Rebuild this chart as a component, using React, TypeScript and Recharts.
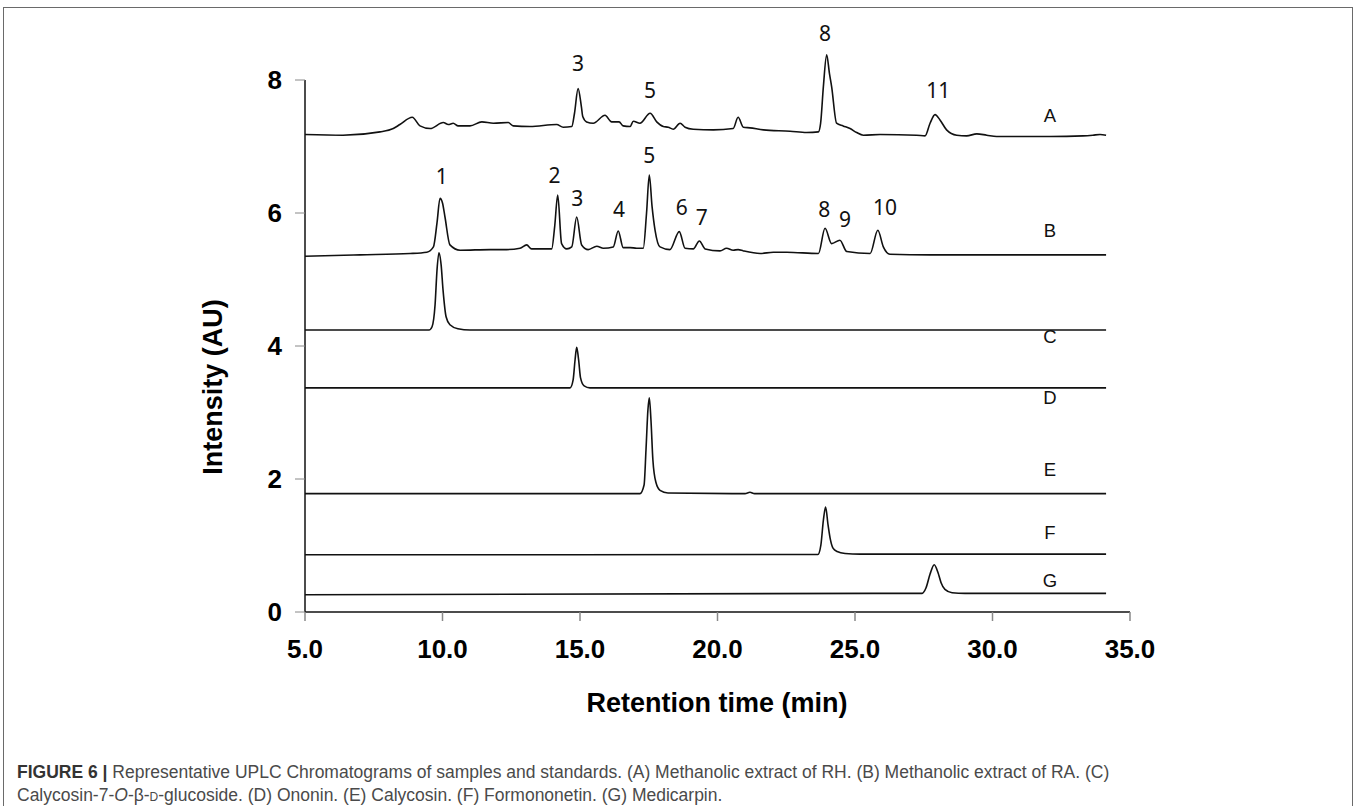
import { LineChart, Line, XAxis, YAxis, ReferenceLine, Scatter } from "recharts";

// retention time (min) / intensity (AU) pairs
const traceA = [
  [5.0, 7.18], [6.38, 7.17], [7.73, 7.22], [8.21, 7.27], [8.45, 7.33], [8.9, 7.44], [9.18, 7.31],
  [9.55, 7.27], [10.03, 7.36], [10.21, 7.33], [10.39, 7.35], [10.57, 7.31], [11.0, 7.31],
  [11.43, 7.37], [11.85, 7.35], [12.39, 7.36], [12.57, 7.31], [13.18, 7.3], [14.15, 7.33],
  [14.39, 7.29], [14.7, 7.3], [14.8, 7.5], [14.93, 7.87], [15.05, 7.6], [15.1, 7.45],
  [15.24, 7.37], [15.48, 7.35], [15.91, 7.47], [16.15, 7.37], [16.42, 7.37], [16.57, 7.31],
  [16.82, 7.3], [16.94, 7.38], [17.18, 7.35], [17.55, 7.5], [17.79, 7.37], [18.03, 7.3],
  [18.21, 7.29], [18.39, 7.26], [18.64, 7.35], [18.82, 7.29], [19.12, 7.26], [19.85, 7.25],
  [20.57, 7.27], [20.75, 7.44], [20.94, 7.29], [21.18, 7.28], [21.67, 7.25], [22.64, 7.23],
  [23.24, 7.21], [23.67, 7.22], [23.75, 7.35], [23.85, 7.9], [23.97, 8.38], [24.07, 8.1],
  [24.15, 7.9], [24.33, 7.35], [24.57, 7.31], [24.82, 7.27], [25.06, 7.21], [25.3, 7.17],
  [25.91, 7.18], [27.24, 7.17], [27.55, 7.16], [27.73, 7.35], [27.91, 7.48], [28.09, 7.4],
  [28.33, 7.25], [28.7, 7.17], [29.06, 7.16], [29.43, 7.19], [29.79, 7.17], [30.15, 7.15],
  [32.09, 7.15], [33.29, 7.16], [33.65, 7.17], [33.91, 7.18], [34.13, 7.17],
];

const traceB = [
  [5.0, 5.35], [7.0, 5.37], [8.82, 5.39], [9.43, 5.41], [9.67, 5.49], [9.8, 5.85], [9.91, 6.22],
  [10.0, 6.15], [10.09, 5.94], [10.27, 5.52], [10.64, 5.44], [11.73, 5.45], [12.33, 5.45],
  [12.82, 5.47], [13.06, 5.52], [13.24, 5.46], [13.97, 5.46], [14.08, 5.8], [14.19, 6.27],
  [14.33, 5.54], [14.52, 5.46], [14.7, 5.49], [14.88, 5.94], [15.06, 5.52], [15.3, 5.45],
  [15.61, 5.5], [15.85, 5.47], [16.21, 5.49], [16.39, 5.73], [16.57, 5.48], [16.82, 5.48],
  [17.06, 5.47], [17.3, 5.47], [17.42, 6.0], [17.52, 6.57], [17.62, 6.1], [17.73, 5.74],
  [17.91, 5.49], [18.27, 5.45], [18.61, 5.72], [18.82, 5.47], [19.12, 5.46], [19.34, 5.58],
  [19.55, 5.46], [20.09, 5.43], [20.33, 5.47], [20.57, 5.44], [20.75, 5.45], [20.94, 5.43],
  [21.55, 5.39], [22.03, 5.41], [22.52, 5.41], [23.67, 5.39], [23.91, 5.77], [24.15, 5.54],
  [24.45, 5.59], [24.7, 5.42], [25.55, 5.39], [25.83, 5.74], [26.03, 5.49], [26.27, 5.38],
  [27.73, 5.37], [32.09, 5.37], [34.13, 5.37],
];

const traceC = [
  [5.0, 4.24], [9.51, 4.24], [9.62, 4.29], [9.73, 4.62], [9.8, 5.14], [9.87, 5.4], [9.95, 5.22],
  [10.02, 4.84], [10.13, 4.44], [10.27, 4.32], [10.56, 4.26], [11.0, 4.24], [34.13, 4.24],
];

const traceD = [
  [5.0, 3.37], [14.64, 3.37], [14.75, 3.49], [14.82, 3.79], [14.88, 3.98], [14.95, 3.79],
  [15.02, 3.52], [15.15, 3.4], [15.36, 3.37], [34.13, 3.37],
];

const traceE = [
  [5.0, 1.78], [17.18, 1.78], [17.33, 1.91], [17.4, 2.44], [17.47, 3.04], [17.52, 3.22],
  [17.58, 2.89], [17.65, 2.29], [17.76, 1.95], [17.91, 1.83], [18.2, 1.79], [21.0, 1.78],
  [21.18, 1.8], [21.35, 1.78], [34.13, 1.78],
];

const traceF = [
  [5.0, 0.86], [23.65, 0.865], [23.76, 1.01], [23.85, 1.38], [23.93, 1.58], [24.02, 1.31],
  [24.11, 1.08], [24.2, 0.96], [24.35, 0.91], [24.64, 0.88], [25.18, 0.87], [34.13, 0.87],
];

const traceG = [
  [5.0, 0.26], [25.91, 0.28], [27.44, 0.28], [27.58, 0.36], [27.73, 0.57], [27.88, 0.71],
  [28.02, 0.59], [28.13, 0.44], [28.27, 0.34], [28.53, 0.29], [29.0, 0.28], [34.13, 0.28],
];

const peakLabels = [
  [14.93, 8.26, "3"], [17.55, 7.85, "5"], [23.91, 8.7, "8"], [28.03, 7.85, "11"],
  [9.97, 6.55, "1"], [14.07, 6.57, "2"], [14.9, 6.22, "3"], [16.42, 6.06, "4"],
  [17.52, 6.87, "5"], [18.7, 6.09, "6"], [19.43, 5.94, "7"], [23.88, 6.06, "8"],
  [24.64, 5.91, "9"], [26.09, 6.09, "10"],
];

const traceNames = [
  [32.09, 7.46, "A"], [32.09, 5.74, "B"], [32.09, 4.14, "C"], [32.09, 3.23, "D"],
  [32.09, 2.14, "E"], [32.09, 1.19, "F"], [32.09, 0.48, "G"],
];

const xTicks = [5, 10, 15, 20, 25, 30, 35];
const yTicks = [0, 2, 4, 6, 8];

const traces = [traceA, traceB, traceC, traceD, traceE, traceF, traceG];

const toPoints = (arr: any[]) => arr.map((p) => ({ t: p[0], v: p[1], text: p[2] }));

const tickFont = {
  fontFamily: "'Liberation Sans', Arial, sans-serif",
  fontWeight: 700,
  fontSize: 26,
  fill: "#000",
};

export default function App() {
  return (
    <div
      style={{
        position: "absolute",
        left: 0,
        top: 0,
        width: 1357,
        height: 806,
        background: "#fff",
        overflow: "hidden",
      }}
    >
      <div
        style={{
          position: "absolute",
          left: 3,
          top: 7,
          width: 1348,
          height: 830,
          border: "1.5px solid #6a6a6a",
        }}
      />

      <div style={{ position: "absolute", left: 0, top: 0 }}>
        <LineChart
          width={1357}
          height={806}
          margin={{ top: 13.5, right: 227, bottom: 134, left: 205 }}
        >
          <XAxis
            dataKey="t"
            type="number"
            domain={[5, 35]}
            ticks={xTicks}
            allowDuplicatedCategory={false}
            tickFormatter={(v: number) => v.toFixed(1)}
            height={60}
            tickSize={9}
            tickMargin={19}
            stroke="#111"
            strokeWidth={1.5}
            tickLine={{ stroke: "#888" }}
            tick={tickFont}
          />
          <YAxis
            type="number"
            domain={[0, 9]}
            ticks={yTicks}
            width={100}
            axisLine={false}
            tickSize={10}
            tickMargin={13}
            tickLine={{ stroke: "#888" }}
            tick={tickFont}
          />
          <ReferenceLine
            segment={[{ x: 5, y: 0 }, { x: 5, y: 8 }]}
            stroke="#111"
            strokeWidth={1.5}
          />
          {traces.map((tr, i) => (
            <Line
              key={i}
              data={toPoints(tr)}
              dataKey="v"
              type="monotone"
              dot={false}
              stroke="#111"
              strokeWidth={1.6}
              isAnimationActive={false}
            />
          ))}
          <Scatter
            data={toPoints(peakLabels)}
            dataKey="v"
            isAnimationActive={false}
            shape={(p: any) => (
              <text
                x={p.cx}
                y={p.cy}
                textAnchor="middle"
                dominantBaseline="central"
                fontFamily="'Noto Sans', 'Open Sans', sans-serif"
                fontSize={21}
                fill="#111"
              >
                {p.payload.text}
              </text>
            )}
          />
          <Scatter
            data={toPoints(traceNames)}
            dataKey="v"
            isAnimationActive={false}
            shape={(p: any) => (
              <text
                x={p.cx}
                y={p.cy}
                textAnchor="middle"
                dominantBaseline="central"
                fontFamily="'Liberation Sans', Arial, sans-serif"
                fontSize={18.5}
                fill="#111"
              >
                {p.payload.text}
              </text>
            )}
          />
        </LineChart>
      </div>

      <div
        style={{
          position: "absolute",
          left: 213,
          top: 387,
          transform: "translate(-50%, -50%) rotate(-90deg)",
          whiteSpace: "nowrap",
          fontFamily: "'Liberation Sans', Arial, sans-serif",
          fontWeight: 700,
          fontSize: 27,
          color: "#000",
        }}
      >
        Intensity (AU)
      </div>

      <div
        style={{
          position: "absolute",
          left: 717,
          top: 703,
          transform: "translate(-50%, -50%)",
          whiteSpace: "nowrap",
          fontFamily: "'Liberation Sans', Arial, sans-serif",
          fontWeight: 700,
          fontSize: 27,
          color: "#000",
        }}
      >
        Retention time (min)
      </div>

      <div
        style={{
          position: "absolute",
          left: 17,
          top: 761,
          fontFamily: "'Liberation Sans', Arial, sans-serif",
          fontSize: 17.5,
          lineHeight: "23px",
          color: "#4a4a4a",
          whiteSpace: "nowrap",
        }}
      >
        <div>
          <b style={{ color: "#333" }}>FIGURE 6 |</b> Representative UPLC Chromatograms of samples
          and standards. (A) Methanolic extract of RH. (B) Methanolic extract of RA. (C)
        </div>
        <div>
          Calycosin-7-<i>O</i>-β-<span style={{ fontVariant: "small-caps" }}>d</span>-glucoside.
          (D) Ononin. (E) Calycosin. (F) Formononetin. (G) Medicarpin.
        </div>
      </div>
    </div>
  );
}
